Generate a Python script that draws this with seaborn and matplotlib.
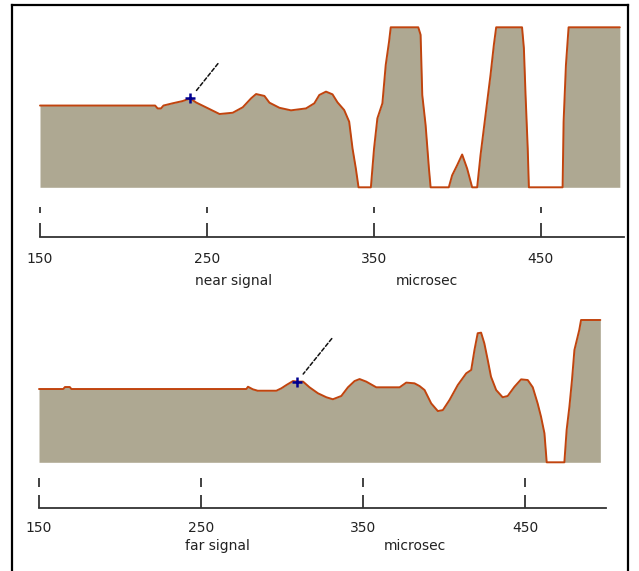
import numpy as np
import pandas as pd
import matplotlib
matplotlib.use('Agg')
import matplotlib.pyplot as plt
import seaborn as sns

# near signal (top trace), amplitude scaled 0..1 (clipped at both ends)
near_t = [150, 219, 220.5, 222.5, 224, 229.5, 235.5, 240, 243.6, 251.6, 257.6, 265.5, 271.5,
          276.5, 279.5, 284.5, 287.5, 293.5, 300.4, 309.4, 314.4, 317.4, 321.4, 325.3, 328.3,
          332.3, 335.3, 337.3, 339.3, 340.9, 348.3, 350.2, 352.2, 355.2, 357.2, 359.2, 360.2,
          376.7, 378.1, 379.1, 381.1, 383.1, 384.1, 395, 397, 400, 403, 406, 409, 412, 414,
          417, 420, 422, 423.4, 438.9, 440, 441, 442.3, 443, 463.2, 463.8, 465.2, 466.8, 497.5]
near_v = [0.511, 0.511, 0.493, 0.493, 0.511, 0.525, 0.539, 0.556, 0.53, 0.489, 0.458, 0.466, 0.5,
          0.556, 0.583, 0.571, 0.529, 0.497, 0.481, 0.493, 0.525, 0.577, 0.598, 0.581, 0.531,
          0.483, 0.41, 0.243, 0.117, 0, 0, 0.243, 0.431, 0.525, 0.765, 0.911, 1,
          1, 0.953, 0.577, 0.389, 0.117, 0, 0, 0.075, 0.138, 0.205, 0.117, 0, 0, 0.2,
          0.451, 0.702, 0.89, 1, 1, 0.87, 0.577, 0.243, 0, 0, 0.41, 0.765, 1, 1]
near_mark = (240, 0.556)

# far signal (bottom trace)
far_t = [150, 165, 166, 169, 170, 278, 279, 282, 285, 296.5, 299.6, 302.7, 306.8, 309.3,
         313, 317, 322.2, 327.4, 331.4, 336.6, 340.7, 344.8, 347.9, 352, 358.2, 372.6, 376.7,
         381.8, 384.9, 388, 392.1, 396.2, 399.3, 403.4, 408.5, 413.7, 416.8, 418.8, 420.8,
         422.9, 424.9, 427, 429, 432.2, 436.2, 439.3, 443.5, 447.6, 451.7, 454.8, 457.8, 459.9,
         462, 463.4, 474.3, 475.7, 477.4, 479, 480.5, 482.5, 483.5, 484.6, 496.5]
far_v = [0.515, 0.515, 0.529, 0.529, 0.515, 0.515, 0.531, 0.513, 0.503, 0.503, 0.52, 0.543, 0.571, 0.567,
         0.567, 0.527, 0.485, 0.457, 0.443, 0.466, 0.527, 0.571, 0.585, 0.567, 0.527, 0.527, 0.56,
         0.555, 0.536, 0.508, 0.414, 0.36, 0.367, 0.438, 0.543, 0.625, 0.649, 0.789, 0.907,
         0.911, 0.836, 0.719, 0.602, 0.508, 0.457, 0.466, 0.531, 0.583, 0.578, 0.527, 0.414, 0.32,
         0.204, 0, 0, 0.227, 0.39, 0.578, 0.789, 0.883, 0.93, 1, 1]
far_mark = (309.3, 0.567)

ticks = [150, 250, 350, 450]
tick_labels = ['150', '250', '350', '450']

fill_col = '#aea892'
line_col = '#c1440e'
txt_col = '#222222'

sns.set_style('white')
plt.rcParams['font.family'] = ['DejaVu Sans']
plt.rcParams['font.size'] = 10

W, H = 639, 571
fig = plt.figure(figsize=(W / 100, H / 100), dpi=100)


def box(l, t, r, b):
    # pixel box -> figure fraction
    return [l / W, 1 - b / H, (r - l) / W, (b - t) / H]


# outer frame (left, top, right only)
frame = fig.add_axes(box(12, 5, 627.5, 575))
frame.set_xticks([]); frame.set_yticks([])
frame.patch.set_alpha(0)
for s in ['left', 'top', 'right']:
    frame.spines[s].set_linewidth(1.6)
    frame.spines[s].set_color('black')
frame.spines['bottom'].set_visible(False)


def panel(sig_box, rul_box, t, v, mark, ptr, short_len, long_len, pad, name, name_x, label_y):
    ax = fig.add_axes(sig_box)
    df = pd.DataFrame({'t': t, 'v': v})
    ax.fill_between(df['t'], df['v'], 0, color=fill_col, lw=0)
    sns.lineplot(data=df, x='t', y='v', ax=ax, color=line_col, lw=1.4, sort=False)
    for ln in ax.lines:
        ln.set_clip_on(False)
    ax.plot([mark[0]], [mark[1]], marker='+', color='#000090', ms=6.5, mew=1.8, zorder=5)
    ax.annotate('', xy=mark, xytext=ptr, textcoords='offset points',
                arrowprops=dict(arrowstyle='-', linestyle=(0, (2.5, 1.5)), color='#111111',
                                lw=1.1, shrinkA=0, shrinkB=7))
    ax.set_xlim(150, 500)
    ax.set_ylim(0, 1)
    ax.set_axis_off()

    ru = fig.add_axes(rul_box)
    ru.set_xlim(150, 500)
    ru.set_ylim(0, 1)
    ru.set_yticks([])
    ru.set_xticks(ticks, tick_labels)
    for s in ['left', 'right', 'top']:
        ru.spines[s].set_visible(False)
    ru.spines['bottom'].set_linewidth(1.3)
    ru.spines['bottom'].set_color('#333333')
    ru.tick_params(axis='x', which='both', top=True, bottom=True, direction='in',
                   color='#333333', width=1.3, labelsize=10, labelcolor=txt_col)
    ru.xaxis.set_tick_params(length=long_len, pad=pad)
    for tk in ru.xaxis.get_major_ticks():
        tk.tick2line.set_markersize(short_len)
    ru.patch.set_alpha(0)
    tr = ru.get_xaxis_transform()
    ru.text(name_x[0], label_y, name, transform=tr, ha='center', va='center',
            fontsize=10, color=txt_col)
    ru.text(name_x[1], label_y, 'microsec', transform=tr, ha='center', va='center',
            fontsize=10, color=txt_col)


panel(box(40, 27.3, 624, 187.3), box(40, 207, 624, 237), near_t, near_v, near_mark,
      (20, 25), 4.3, 10, 11, 'near signal', (266, 382), -1.47)
panel(box(39, 320, 606, 462.3), box(39, 478, 606, 508), far_t, far_v, far_mark,
      (25, 31), 6.5, 9.4, 9, 'far signal', (260, 382), -1.27)

fig.savefig('out.png', dpi=100)
